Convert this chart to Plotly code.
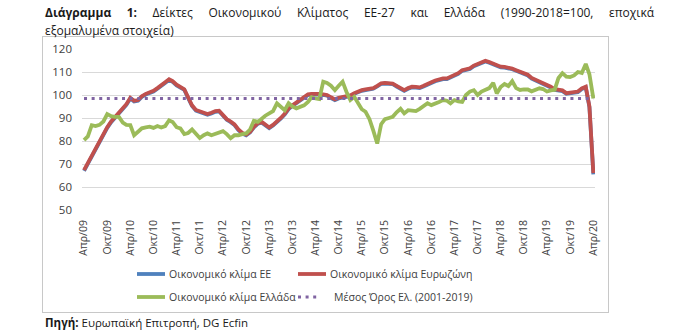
import pandas as pd
import plotly.graph_objects as go

# Monthly Economic Sentiment Indicator, Apr 2009 - Apr 2020 (1990-2018 = 100, seasonally adjusted)
months = pd.date_range("2009-04-01", "2020-04-01", freq="MS")

esi_eu = [
    67.0, 70.2, 73.2, 76.2, 79.7, 82.7, 85.7, 88.2, 90.2, 92.2, 93.7, 95.7,
    98.5, 97.2, 97.5, 99.2, 100.2, 100.7, 101.5, 102.7, 104.2, 105.2, 106.5, 105.7,
    104.2, 103.2, 102.2, 98.7, 95.2, 93.2, 92.5, 92.2, 91.4, 92.0, 92.7, 92.9,
    90.7, 89.2, 88.2, 86.9, 84.7, 83.2, 82.5, 83.7, 85.9, 87.5, 88.0, 86.7,
    85.6, 86.7, 88.0, 89.7, 91.5, 93.9, 95.2, 96.5, 97.7, 98.7, 100.0, 100.2,
    100.4, 100.2, 100.0, 99.7, 98.7, 97.8, 98.5, 98.7, 98.9, 99.5, 100.5, 101.3,
    101.8, 102.1, 102.3, 102.7, 103.7, 104.8, 105.0, 104.9, 104.7, 103.7, 102.5, 101.8,
    102.7, 103.3, 103.2, 103.0, 103.7, 104.7, 105.2, 106.0, 106.5, 106.9, 106.9, 107.5,
    108.2, 109.2, 110.5, 111.0, 111.3, 112.5, 113.3, 114.1, 114.6, 114.0, 113.2, 112.5,
    112.0, 111.9, 111.7, 111.2, 110.5, 109.8, 109.3, 108.5, 107.1, 106.3, 105.9, 105.2,
    104.3, 103.3, 102.2, 102.0, 101.7, 100.5, 100.6, 100.9, 101.2, 102.6, 103.3, 94.7,
    65.5,
]

esi_euro_area = [
    67.3, 70.5, 73.5, 76.5, 80.0, 83.0, 86.0, 88.5, 90.5, 92.5, 94.0, 96.0,
    98.8, 97.5, 97.8, 99.5, 100.5, 101.0, 101.8, 103.0, 104.5, 105.5, 106.8, 106.0,
    104.5, 103.5, 102.5, 99.0, 95.5, 93.5, 92.8, 92.5, 91.7, 92.3, 93.0, 93.2,
    91.0, 89.5, 88.5, 87.2, 85.0, 83.5, 82.8, 84.0, 86.2, 87.8, 88.3, 87.0,
    85.9, 87.0, 88.3, 90.0, 91.8, 94.2, 95.5, 96.8, 98.0, 99.0, 100.3, 100.5,
    100.7, 100.5, 100.3, 100.0, 99.0, 98.1, 98.8, 99.0, 99.2, 99.8, 100.8, 101.6,
    102.1, 102.4, 102.6, 103.0, 104.0, 105.1, 105.3, 105.2, 105.0, 104.0, 102.8, 102.1,
    103.0, 103.6, 103.5, 103.3, 104.0, 105.0, 105.5, 106.3, 106.8, 107.2, 107.2, 107.8,
    108.5, 109.5, 110.8, 111.3, 111.6, 112.8, 113.6, 114.4, 114.9, 114.3, 113.5, 112.8,
    112.3, 112.2, 112.0, 111.5, 110.8, 110.1, 109.6, 108.8, 107.4, 106.6, 106.2, 105.5,
    104.6, 103.6, 102.5, 102.3, 102.0, 100.8, 100.9, 101.2, 101.5, 102.9, 103.6, 95.0,
    66.0,
]

esi_greece = [
    80.4, 82.0, 86.9, 86.5, 87.0, 88.5, 91.7, 90.8, 90.5, 90.5, 88.0, 87.0,
    86.9, 82.5, 84.0, 85.5, 85.9, 86.2, 85.7, 86.5, 85.9, 86.5, 89.0, 88.3,
    86.0, 85.5, 83.0, 83.5, 85.0, 83.0, 81.3, 82.5, 83.3, 82.5, 83.0, 83.5,
    84.3, 83.0, 81.2, 82.5, 82.5, 83.0, 83.3, 85.0, 88.8, 88.3, 90.0, 91.0,
    92.0, 93.0, 96.4, 94.9, 93.4, 96.4, 95.0, 94.2, 94.9, 95.5, 97.0, 99.0,
    98.5, 98.2, 105.8, 105.2, 104.0, 102.1, 104.0, 105.8, 101.4, 97.8, 99.2, 96.5,
    93.8, 92.7, 89.5, 84.5, 78.9, 87.3, 89.5, 90.0, 90.5, 92.5, 94.0, 92.0,
    93.4, 93.2, 93.0, 94.0, 95.0, 96.4, 95.6, 96.5, 97.0, 97.8, 97.5, 96.4,
    97.8, 97.2, 97.0, 100.0, 101.5, 102.1, 100.0, 101.5, 102.3, 103.0, 105.3, 100.7,
    103.5, 104.8, 103.9, 106.0, 103.0, 102.2, 102.4, 102.4, 101.6, 102.3, 102.9, 102.6,
    101.5, 102.0, 102.3, 107.4, 109.5, 108.0, 107.8, 108.5, 110.0, 109.6, 113.5, 109.0,
    98.5,
]

# Greek long-run average 2001-2019
greece_average = [98.5] * len(months)

tick_labels = [
    "Απρ/09", "Οκτ/09", "Απρ/10", "Οκτ/10", "Απρ/11", "Οκτ/11", "Απρ/12", "Οκτ/12",
    "Απρ/13", "Οκτ/13", "Απρ/14", "Οκτ/14", "Απρ/15", "Οκτ/15", "Απρ/16", "Οκτ/16",
    "Απρ/17", "Οκτ/17", "Απρ/18", "Οκτ/18", "Απρ/19", "Οκτ/19", "Απρ/20",
]
tick_dates = months[::6]

series_names = [
    "Οικονομικό κλίμα ΕΕ",
    "Οικονομικό κλίμα Ευρωζώνη",
    "Οικονομικό κλίμα Ελλάδα",
    "Μέσος Όρος Ελ. (2001-2019)",
]
colors = ["#4F81BD", "#C0504D", "#9BBB59", "#8064A2"]

W, H = 700, 332
# outer chart box (the paper area) and the inner plotting region, in pixels
FL, FR, FT, FB = 43, 608, 37, 312
PL, PR, PT, PB = 82, 595, 49, 210


def px_x(p):
    return (p - FL) / (FR - FL)


def px_y(p):
    return (FB - p) / (FB - FT)


FONT = "Open Sans"
TXT = "#404040"
FRAME = "#c8c8c8"

fig = go.Figure()
for name, vals, col in zip(series_names[:3], [esi_eu, esi_euro_area, esi_greece], colors[:3]):
    fig.add_trace(go.Scatter(x=months, y=vals, mode="lines", name=name,
                             line=dict(color=col, width=3.8), showlegend=False,
                             hoverinfo="skip"))
fig.add_trace(go.Scatter(x=months, y=greece_average, mode="lines", name=series_names[3],
                         line=dict(color=colors[3], width=3, dash="3px,4.6px"),
                         showlegend=False, hoverinfo="skip"))
# empty trace holding the full-size frame axes
fig.add_trace(go.Scatter(x=[], y=[], xaxis="x2", yaxis="y2", showlegend=False,
                         hoverinfo="skip"))

frame_axis = dict(domain=[0, 1], range=[0, 1], showline=True, mirror=True,
                  linecolor=FRAME, linewidth=1, showgrid=False, zeroline=False,
                  showticklabels=False, ticks="", fixedrange=True)

fig.update_layout(
    width=W, height=H,
    margin=dict(l=FL, r=W - FR, t=FT, b=H - FB, pad=0),
    paper_bgcolor="white", plot_bgcolor="rgba(0,0,0,0)",
    font=dict(family=FONT, color=TXT),
    xaxis=dict(
        domain=[px_x(PL), px_x(PR)],
        range=[pd.Timestamp("2009-03-16"), pd.Timestamp("2020-04-14")],
        tickmode="array", tickvals=tick_dates, ticktext=tick_labels,
        tickangle=-90, showgrid=False, zeroline=False, showline=False,
        ticks="", ticklabelstandoff=7,
        tickfont=dict(family=FONT, size=10.5, color=TXT),
    ),
    yaxis=dict(
        domain=[px_y(PB), px_y(PT)],
        range=[50, 120], dtick=10, showgrid=True, gridcolor="#d9d9d9", gridwidth=1,
        zeroline=False, showline=False, ticks="", ticklabelstandoff=9,
        tickfont=dict(family=FONT, size=11.5, color=TXT),
    ),
    xaxis2=dict(anchor="y2", **frame_axis),
    yaxis2=dict(anchor="x2", **frame_axis),
)

# legend block
legend_rows = [
    (137, 165, 167, 274, 0),
    (298, 326, 328, 274, 1),
    (137, 165, 167, 297, 2),
]
shapes = []
annotations = []
for x0, x1, tx, ty, i in legend_rows:
    shapes.append(dict(type="line", xref="paper", yref="paper",
                       x0=px_x(x0), x1=px_x(x1), y0=px_y(ty), y1=px_y(ty),
                       line=dict(color=colors[i], width=3.8)))
    annotations.append(dict(text=series_names[i], xref="paper", yref="paper",
                            x=px_x(tx), y=px_y(ty), xanchor="left", yanchor="middle",
                            showarrow=False, font=dict(size=10.5, color=TXT)))
shapes.append(dict(type="line", xref="paper", yref="paper",
                   x0=px_x(298), x1=px_x(320), y0=px_y(297), y1=px_y(297),
                   line=dict(color=colors[3], width=3, dash="3px,4.6px")))
annotations.append(dict(text=series_names[3], xref="paper", yref="paper",
                        x=px_x(332), y=px_y(297), xanchor="left", yanchor="middle",
                        showarrow=False, font=dict(size=10.5, color=TXT)))

# title (first line justified across the full text width) and source
gap = " " + "\u00a0" * 4
title_words = ["Δείκτες", "Οικονομικού", "Κλίματος", "ΕΕ-27", "και", "Ελλάδα",
               "(1990-2018=100,", "εποχικά"]
title_line1 = "<b>Διάγραμμα" + gap + "1:</b>" + gap + gap.join(title_words)
annotations.append(dict(
    text=title_line1,
    xref="paper", yref="paper", x=0, y=px_y(12.5), xanchor="left", yanchor="middle",
    showarrow=False, font=dict(size=12, color="#1a1a1a")))
annotations.append(dict(
    text="εξομαλυμένα στοιχεία)",
    xref="paper", yref="paper", x=0, y=px_y(30), xanchor="left", yanchor="middle",
    showarrow=False, font=dict(size=12, color="#1a1a1a")))
annotations.append(dict(
    text="<b>Πηγή:</b> Ευρωπαϊκή Επιτροπή, DG Ecfin",
    xref="paper", yref="paper", x=0, y=px_y(322), xanchor="left", yanchor="middle",
    showarrow=False, font=dict(size=11.5, color="#1a1a1a")))

fig.update_layout(shapes=shapes, annotations=annotations)
fig.write_html("out.html")
